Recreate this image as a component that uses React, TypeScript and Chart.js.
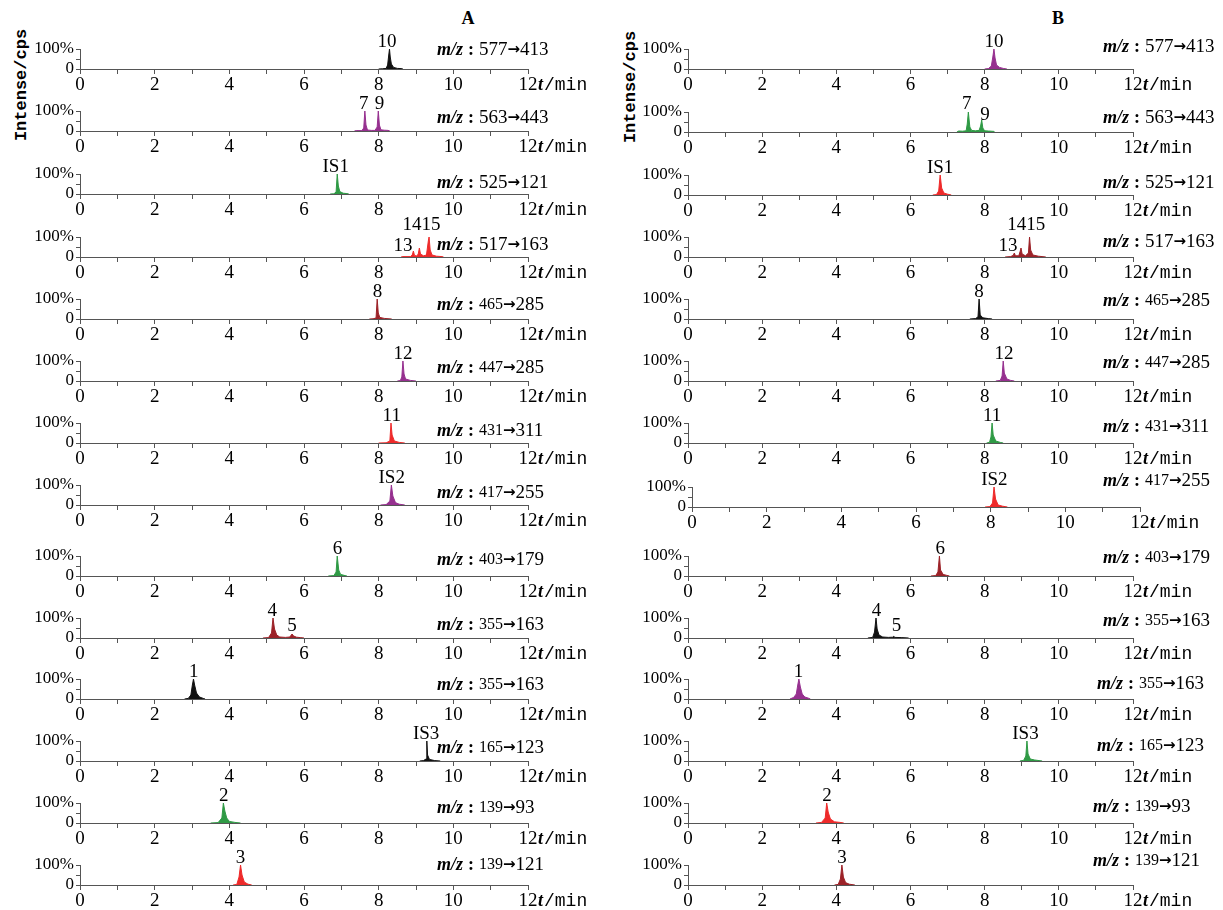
import React, { useEffect, useRef } from "react";
import { Chart, registerables } from "chart.js";
Chart.register(...registerables);

const BLACK = "#111111";
const PURPLE = "#96308f";
const GREEN = "#2f9a45";
const RED = "#ee2a2a";
const DARKRED = "#9c2228";

// ---------- data: retention time (min), relative intensity (%) ----------
const A1 = [[8.0,0],[8.1,1],[8.2,3],[8.24,20],[8.27,70],[8.29,100],[8.31,60],[8.34,25],[8.4,8],[8.5,3],[8.6,2],[8.65,0]];
const A2 = [[7.35,0],[7.4,2],[7.55,2],[7.6,15],[7.63,100],[7.66,30],[7.7,5],[7.8,3],[7.9,3],[7.96,20],[7.99,100],[8.02,30],[8.06,6],[8.15,4],[8.25,3],[8.3,0]];
const A3 = [[6.7,0],[6.8,1],[6.86,10],[6.89,100],[6.92,40],[6.96,12],[7.05,4],[7.15,2],[7.2,0]];
const A4 = [[8.6,0],[8.65,2],[8.85,2],[8.9,10],[8.93,30],[8.96,8],[9.02,5],[9.06,15],[9.09,45],[9.12,15],[9.2,6],[9.28,10],[9.33,80],[9.35,100],[9.38,35],[9.43,10],[9.55,4],[9.7,2],[9.72,0]];
const A5 = [[7.75,0],[7.85,1],[7.93,5],[7.96,100],[7.99,30],[8.03,8],[8.15,3],[8.35,0]];
const A6 = [[8.5,0],[8.58,2],[8.62,20],[8.65,100],[8.68,35],[8.72,10],[8.85,3],[9.0,0]];
const A7 = [[8.0,0],[8.2,1],[8.3,10],[8.33,100],[8.36,40],[8.42,10],[8.55,3],[8.7,0]];
const A8 = [[8.05,0],[8.2,2],[8.3,20],[8.34,100],[8.38,45],[8.45,12],[8.55,4],[8.7,0]];
const A9 = [[6.65,0],[6.8,2],[6.86,20],[6.89,100],[6.93,30],[6.98,8],[7.1,2],[7.15,0]];
const A10 = [[4.9,0],[5.05,2],[5.13,25],[5.17,100],[5.21,45],[5.27,15],[5.35,5],[5.5,3],[5.62,5],[5.68,20],[5.72,10],[5.8,4],[5.9,2],[6.0,0]];
const A11 = [[2.8,0],[2.9,3],[2.97,20],[3.01,70],[3.04,100],[3.07,70],[3.12,30],[3.2,10],[3.3,3],[3.35,0]];
const A12 = [[9.1,0],[9.2,2],[9.27,10],[9.29,100],[9.31,30],[9.36,8],[9.5,2],[9.65,0]];
const A13 = [[3.5,0],[3.7,2],[3.8,25],[3.84,100],[3.88,60],[3.93,25],[4.0,8],[4.15,3],[4.3,0]];
const A14 = [[4.1,0],[4.2,3],[4.26,40],[4.3,100],[4.34,50],[4.4,15],[4.5,4],[4.6,0]];

const B1 = [[8.0,0],[8.1,2],[8.18,15],[8.22,60],[8.25,100],[8.28,55],[8.32,20],[8.4,8],[8.5,3],[8.6,0]];
const B2 = [[7.25,0],[7.3,5],[7.4,4],[7.5,6],[7.53,40],[7.56,100],[7.6,25],[7.65,8],[7.75,6],[7.85,8],[7.89,30],[7.92,60],[7.95,20],[8.0,6],[8.1,5],[8.25,3],[8.27,0]];
const B3 = [[6.6,0],[6.7,2],[6.76,20],[6.8,100],[6.84,35],[6.9,10],[7.0,4],[7.1,0]];
const B4 = [[8.55,0],[8.7,2],[8.77,8],[8.8,20],[8.83,6],[8.92,6],[8.96,30],[8.98,45],[9.01,15],[9.1,6],[9.18,20],[9.21,100],[9.24,35],[9.3,10],[9.45,4],[9.65,0]];
const B5 = [[7.6,0],[7.75,2],[7.82,10],[7.85,100],[7.88,20],[7.95,6],[8.1,2],[8.2,0]];
const B6 = [[8.3,0],[8.42,3],[8.47,25],[8.5,100],[8.53,40],[8.6,10],[8.7,3],[8.8,0]];
const B7 = [[8.05,0],[8.13,3],[8.17,30],[8.2,100],[8.23,40],[8.3,10],[8.42,3],[8.5,0]];
const B8 = [[7.85,0],[7.98,2],[8.05,20],[8.09,100],[8.13,40],[8.2,10],[8.32,4],[8.45,0]];
const B9 = [[6.55,0],[6.68,2],[6.74,20],[6.78,100],[6.81,30],[6.88,8],[6.98,3],[7.05,0]];
const B10 = [[4.85,0],[4.98,3],[5.03,30],[5.07,100],[5.1,45],[5.15,15],[5.25,5],[5.4,3],[5.52,4],[5.55,8],[5.58,3],[5.75,2],[5.95,0]];
const B11 = [[2.75,0],[2.85,8],[2.92,25],[2.96,70],[2.99,100],[3.03,60],[3.08,25],[3.15,10],[3.25,4],[3.3,0]];
const B12 = [[8.95,0],[9.05,3],[9.11,25],[9.14,100],[9.17,35],[9.23,10],[9.35,5],[9.55,0]];
const B13 = [[3.45,0],[3.6,3],[3.7,25],[3.74,100],[3.78,55],[3.84,20],[3.95,6],[4.1,3],[4.2,0]];
const B14 = [[3.95,0],[4.05,3],[4.11,30],[4.15,100],[4.19,40],[4.25,12],[4.35,4],[4.5,0]];

// peak labels: [text, retention time, label bottom level (%)]
const A_LABELS: [string, number, number][][] = [
  [["10", 8.22, 110]],
  [["7", 7.6, 110], ["9", 8.02, 110]],
  [["IS1", 6.85, 110]],
  [["13", 8.65, 30], ["1415", 9.15, 135]],
  [["8", 7.97, 110]],
  [["12", 8.65, 110]],
  [["11", 8.35, 110]],
  [["IS2", 8.35, 110]],
  [["6", 6.9, 110]],
  [["4", 5.15, 110], ["5", 5.68, 35]],
  [["1", 3.05, 110]],
  [["IS3", 9.27, 110]],
  [["2", 3.85, 110]],
  [["3", 4.3, 110]],
];
const B_LABELS: [string, number, number][][] = [
  [["10", 8.25, 110]],
  [["7", 7.52, 115], ["9", 8.01, 60]],
  [["IS1", 6.8, 110]],
  [["13", 8.63, 30], ["1415", 9.12, 135]],
  [["8", 7.85, 110]],
  [["12", 8.52, 110]],
  [["11", 8.2, 110]],
  [["IS2", 8.1, 110]],
  [["6", 6.8, 110]],
  [["4", 5.08, 110], ["5", 5.62, 35]],
  [["1", 2.98, 110]],
  [["IS3", 9.1, 110]],
  [["2", 3.75, 110]],
  [["3", 4.15, 110]],
];

const MZ_PRECURSOR = ["577", "563", "525", "517", "465", "447", "431", "417", "403", "355", "355", "165", "139", "139"];
const MZ_PRODUCT = ["413", "443", "121", "163", "285", "285", "311", "255", "179", "163", "163", "123", "93", "121"];
const X_TICK_LABELS = ["0", "", "2", "", "4", "", "6", "", "8", "", "10", "", "12"];
const A_TRACES = [A1, A2, A3, A4, A5, A6, A7, A8, A9, A10, A11, A12, A13, A14];
const B_TRACES = [B1, B2, B3, B4, B5, B6, B7, B8, B9, B10, B11, B12, B13, B14];
const A_COLORS = [BLACK, PURPLE, GREEN, RED, DARKRED, PURPLE, RED, PURPLE, GREEN, DARKRED, BLACK, BLACK, GREEN, RED];
const B_COLORS = [PURPLE, GREEN, RED, DARKRED, BLACK, PURPLE, GREEN, RED, DARKRED, BLACK, PURPLE, GREEN, RED, DARKRED];

// ---------- layout ----------
const Y_W = 46;
const X_H = 24;
const TOP = 36;
const PLOT_H = 20;
const A_BASE = [69, 131, 194, 257, 319, 381, 443, 505, 576, 638, 699, 761, 823, 885];
const B_BASE = [69, 132, 195, 257, 319, 381, 443, 507, 576, 638, 699, 761, 823, 885];
const A_MZ_DY = [19, 13, 11, 12, 14, 13, 12, 12, 16, 13, 14, 13, 15, 20];
const B_MZ_DY = [22, 14, 12, 15, 18, 18, 16, 26, 18, 17, 15, 15, 16, 24];
const B_MZ_X = [1103, 1103, 1103, 1103, 1103, 1103, 1103, 1103, 1103, 1103, 1097, 1097, 1093, 1093];

const SERIF = '"Liberation Serif", "DejaVu Serif", serif';
const MONO = '"Liberation Mono", "DejaVu Sans Mono", monospace';
const ARROW_FONT = '"DejaVu Sans", sans-serif';

type PanelProps = {
  x0: number; x12: number; base: number; right: number;
  trace: number[][]; labels: [string, number, number][];
  pre: string; prod: string; small: boolean; color: string;
  mzX: number; mzDy: number;
};

function Panel(p: PanelProps) {
  const ref = useRef<HTMLCanvasElement>(null);
  const left = p.x0 - Y_W;
  const width = p.right - left;
  const top = p.base - PLOT_H - TOP;
  const height = TOP + PLOT_H + X_H;

  useEffect(() => {
    const axisColor = "#555555";
    const chart = new Chart(ref.current as HTMLCanvasElement, {
      type: "line",
      data: {
        datasets: [
          {
            data: p.trace.map(([x, y]) => ({ x, y })),
            borderColor: p.color,
            backgroundColor: p.color,
            borderWidth: 1,
            fill: "origin",
            pointRadius: 0,
            tension: 0,
          },
        ],
      },
      options: {
        responsive: false,
        animation: false,
        devicePixelRatio: 1,
        layout: { padding: { left: 0, right: p.right - p.x12, top: TOP, bottom: 0 } },
        plugins: { legend: { display: false }, tooltip: { enabled: false } },
        scales: {
          x: {
            type: "linear",
            min: 0,
            max: 12,
            ticks: {
              stepSize: 1,
              autoSkip: false,
              maxRotation: 0,
              padding: 0,
              color: "#000",
              font: { family: SERIF, size: 19 },
              callback: (v: any) => X_TICK_LABELS[Math.round(Number(v))] ?? "",
            },
            grid: { drawOnChartArea: false, drawTicks: true, tickLength: 5, color: axisColor, lineWidth: 1 },
            border: { display: true, color: axisColor, width: 1 },
            afterFit: (s: any) => { s.height = X_H; s.paddingLeft = 0; s.paddingRight = 0; },
          },
          y: {
            min: 0,
            max: 100,
            ticks: {
              stepSize: 50,
              autoSkip: false,
              padding: 2,
              color: "#000",
              font: { family: SERIF, size: 17 },
              callback: (v: any) => (Number(v) === 100 ? "100%" : Number(v) === 0 ? "0" : ""),
            },
            grid: { drawOnChartArea: false, drawTicks: true, tickLength: 4, color: axisColor, lineWidth: 1 },
            border: { display: true, color: axisColor, width: 1 },
            afterFit: (s: any) => { s.width = Y_W; s.paddingTop = 0; s.paddingBottom = 0; },
          },
        },
      } as any,
      plugins: [
        {
          id: "annotations",
          afterDraw(c: any) {
            const ctx = c.ctx as CanvasRenderingContext2D;
            const xs = c.scales.x;
            const ys = c.scales.y;
            const area = c.chartArea;
            ctx.save();
            ctx.fillStyle = "#000";
            // peak labels
            ctx.font = `19px ${SERIF}`;
            ctx.textAlign = "center";
            ctx.textBaseline = "alphabetic";
            for (const [txt, rt, lvl] of p.labels) {
              ctx.fillText(txt, xs.getPixelForValue(rt), ys.getPixelForValue(lvl));
            }
            // t/min
            const ty = area.bottom + 16;
            ctx.textBaseline = "middle";
            ctx.textAlign = "left";
            let tx = xs.getPixelForValue(12) + 10;
            ctx.font = `italic bold 18px ${SERIF}`;
            ctx.fillText("t", tx, ty);
            tx += ctx.measureText("t").width + 1;
            ctx.font = `18px ${MONO}`;
            ctx.fillText("/min", tx, ty);
            // m/z label
            let mx = p.mzX - left;
            const my = area.bottom - p.mzDy;
            ctx.font = `italic bold 18px ${SERIF}`;
            ctx.fillText("m/z", mx, my);
            mx += ctx.measureText("m/z").width + 5;
            ctx.font = `bold 18px ${SERIF}`;
            ctx.fillText(":", mx, my);
            mx += ctx.measureText(":").width + 5;
            ctx.font = `${p.small ? 16 : 19}px ${SERIF}`;
            ctx.fillText(p.pre, mx, my);
            mx += ctx.measureText(p.pre).width;
            ctx.font = `bold 15px ${ARROW_FONT}`;
            ctx.fillText("→", mx, my);
            mx += ctx.measureText("→").width;
            ctx.font = `19px ${SERIF}`;
            ctx.fillText(p.prod, mx, my);
            ctx.restore();
          },
        },
      ],
    });
    return () => chart.destroy();
  }, []);

  return (
    <canvas
      ref={ref}
      width={width}
      height={height}
      style={{ position: "absolute", left, top, width, height }}
    />
  );
}

const headStyle: React.CSSProperties = {
  position: "absolute",
  fontFamily: SERIF,
  fontWeight: "bold",
  fontSize: 18,
  transform: "translate(-50%, -50%)",
};

const yTitleStyle: React.CSSProperties = {
  position: "absolute",
  fontFamily: MONO,
  fontWeight: "bold",
  fontSize: 17,
  whiteSpace: "nowrap",
  transform: "translate(-50%, -50%) rotate(-90deg)",
};

export default function App() {
  const rows = MZ_PRECURSOR.map((_, i) => i);
  return (
    <div style={{ position: "absolute", left: 0, top: 0, width: 1223, height: 910, background: "#fff", overflow: "hidden" }}>
      <div style={{ ...headStyle, left: 468, top: 18 }}>A</div>
      <div style={{ ...headStyle, left: 1058, top: 18 }}>B</div>
      <div style={{ ...yTitleStyle, left: 21, top: 85 }}>Intense/cps</div>
      <div style={{ ...yTitleStyle, left: 630, top: 87 }}>Intense/cps</div>
      {rows.map((i) => (
        <Panel
          key={"a" + i}
          x0={80}
          x12={528}
          base={A_BASE[i]}
          right={600}
          trace={A_TRACES[i]}
          labels={A_LABELS[i]}
          pre={MZ_PRECURSOR[i]}
          prod={MZ_PRODUCT[i]}
          small={i >= 4}
          color={A_COLORS[i]}
          mzX={437}
          mzDy={A_MZ_DY[i]}
        />
      ))}
      {rows.map((i) => (
        <Panel
          key={"b" + i}
          x0={i === 7 ? 692 : 688}
          x12={i === 7 ? 1140 : 1133}
          base={B_BASE[i]}
          right={1223}
          trace={B_TRACES[i]}
          labels={B_LABELS[i]}
          pre={MZ_PRECURSOR[i]}
          prod={MZ_PRODUCT[i]}
          small={i >= 4}
          color={B_COLORS[i]}
          mzX={B_MZ_X[i]}
          mzDy={B_MZ_DY[i]}
        />
      ))}
    </div>
  );
}
